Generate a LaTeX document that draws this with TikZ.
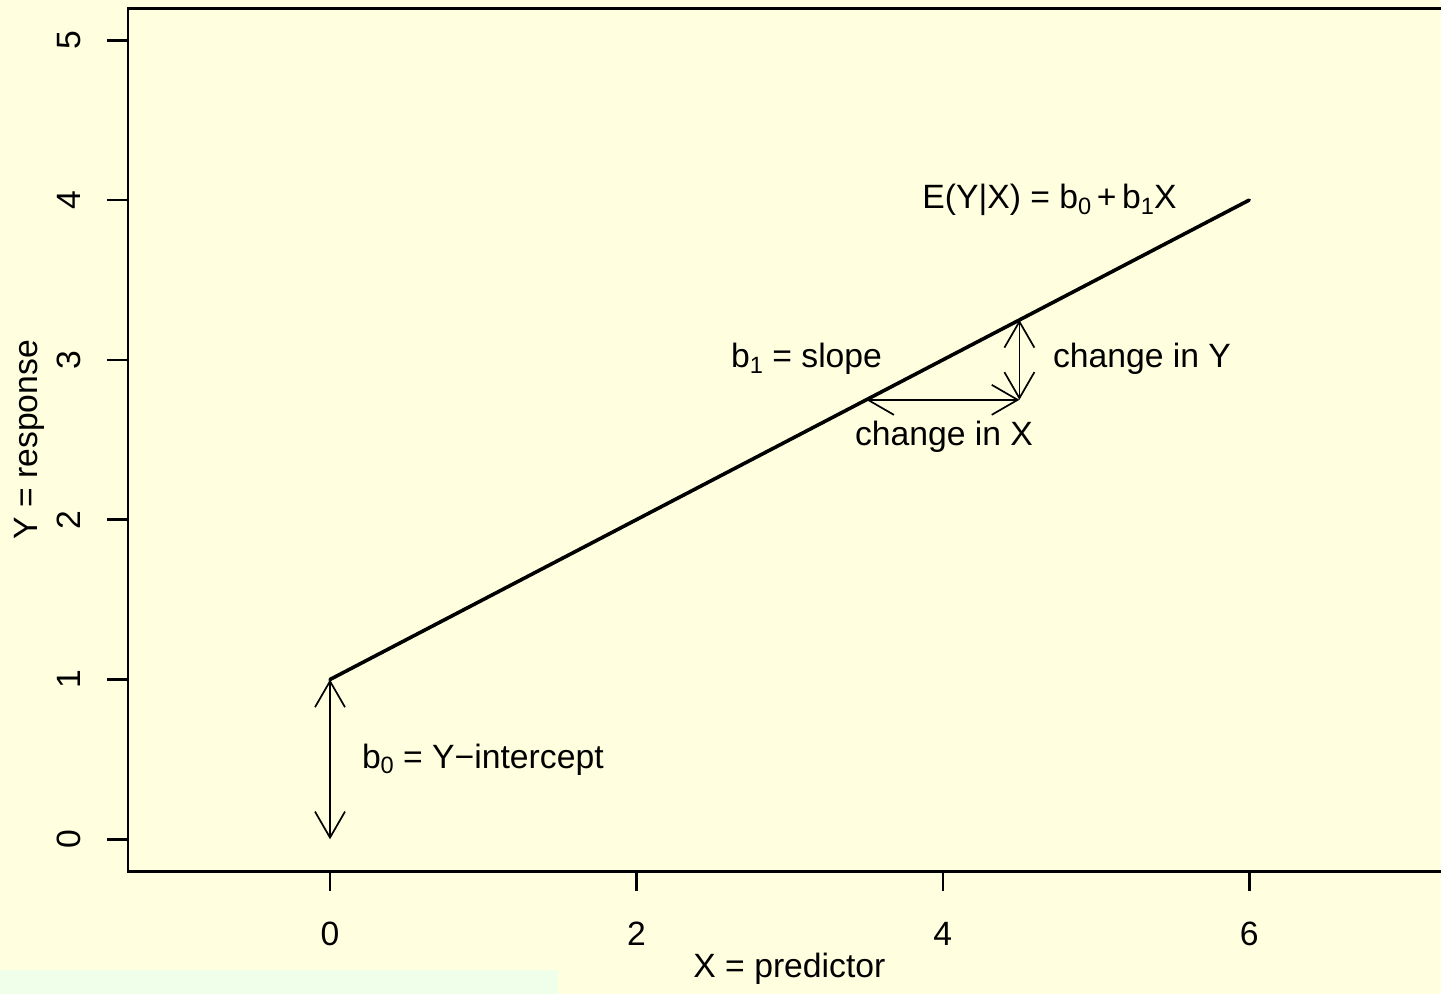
\documentclass[tikz,border=0pt]{standalone}
\usepackage{fontspec}
\setmainfont{Liberation Sans}
\usetikzlibrary{arrows.meta}
\definecolor{bgyellow}{HTML}{FFFFE0}
\definecolor{bggreen}{HTML}{F0FFEA}
\newcommand{\lowsub}[1]{\raisebox{-2.6pt}{\fontsize{11.8}{12}\selectfont #1}}
\begin{document}
\begin{tikzpicture}[x=0.5pt,y=-0.5pt,
  lab/.style={font=\fontsize{16.85}{20}\selectfont, inner sep=0pt, outer sep=0pt},
  axisline/.style={line width=1.3pt, line cap=rect},
  tickline/.style={line width=1.3pt},
  regline/.style={line width=1.8pt, line cap=round},
  dblarrow/.style={line width=0.85pt,
    {Straight Barb[length=13pt,width=15pt]}-{Straight Barb[length=13pt,width=15pt]}}]
\useasboundingbox (0,0) rectangle (1441,994);
\clip (0,0) rectangle (1441,994);
\fill[bgyellow] (0,0) rectangle (1441,994);
\fill[bggreen] (0,970) rectangle (558,994);
% axes box
\draw[axisline] (1460,8.3) -- (127.8,8.3) -- (127.8,871.3) -- (1460,871.3);
% x ticks
\foreach \xp/\lbl in {330/0, 636.4/2, 942.8/4, 1249.2/6}{
  \draw[tickline] (\xp,871.3) -- (\xp,891);
  \node[lab, anchor=base] at (\xp,945) {\lbl};
}
% y ticks
\foreach \yp/\lbl in {839.3/0, 679.5/1, 519.7/2, 359.9/3, 200.1/4, 40.3/5}{
  \draw[tickline] (127.8,\yp) -- (107,\yp);
  \node[lab, anchor=base, rotate=90] at (80,\yp) {\lbl};
}
% axis titles
\node[lab, anchor=base] (xtitle) at (789.4,977) {X = predictor};
\node[lab, anchor=base, rotate=90] (ytitle) at (37,439.8) {Y = response};
% key points
\coordinate (p00) at (330,839.3);
\coordinate (p01) at (330,679.5);
\coordinate (p64) at (1249.2,200.1);
\coordinate (pa) at (866.2,399.85);
\coordinate (pb) at (1019.4,399.85);
\coordinate (pc) at (1019.4,319.95);
% regression line
\draw[regline] (p01) -- (p64);
% arrows
\draw[dblarrow] (p00) -- (p01);
\draw[dblarrow] (pa) -- (pb);
\draw[dblarrow] (pb) -- (pc);
% labels
\node[lab, anchor=base west] (b0lab) at (362,768) {b\lowsub{0} = Y−intercept};
\node[lab, anchor=base east] (b1lab) at (882,368) {b\lowsub{1} = slope};
\node[lab, anchor=base west] (dylab) at (1053,368) {change in Y};
\node[lab, anchor=base] (dxlab) at (944,446) {change in X};
\node[lab, anchor=base] (eqlab) at (1049.5,209) {E(Y|X) = b\lowsub{0}\,+\,b\lowsub{1}X};
\end{tikzpicture}
\end{document}
